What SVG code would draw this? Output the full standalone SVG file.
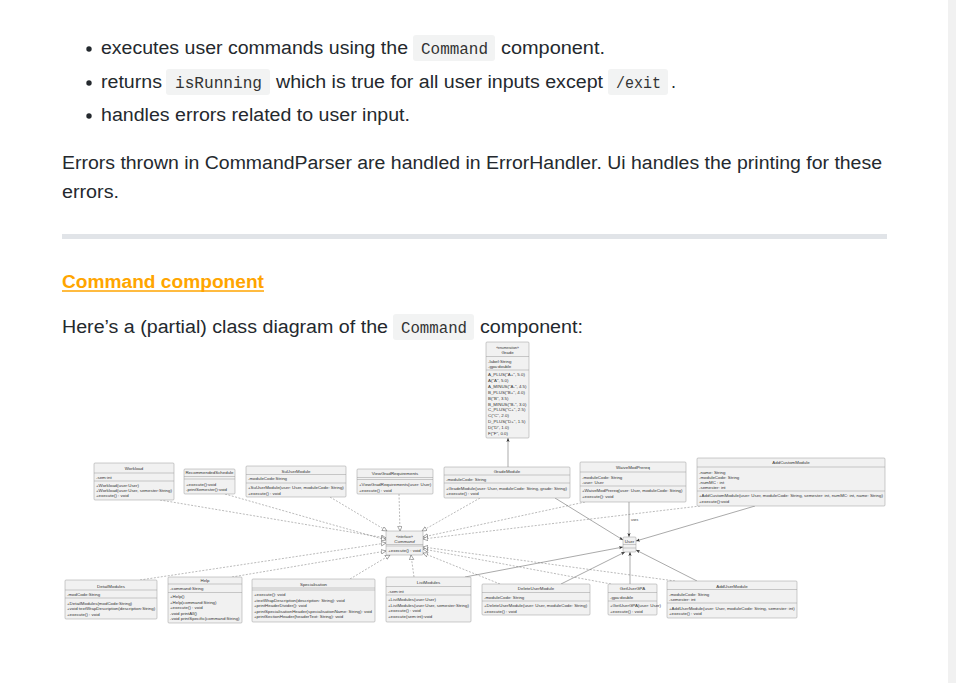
<svg xmlns="http://www.w3.org/2000/svg" width="956" height="683" viewBox="0 0 956 683">
<defs>
<style>
.t{font-family:"Liberation Sans",Arial,sans-serif;font-size:18px;fill:#24292e}
.c{font-family:"Liberation Mono","DejaVu Sans Mono",monospace;font-size:16px;fill:#333}
.cb{fill:#f2f3f3}
.u{font-family:"Liberation Sans",Arial,sans-serif;font-size:4.4px;fill:#333}
.s{font-size:3.4px}
.m{text-anchor:middle}
.box{fill:#f1f1f1;stroke:#9a9a9a;stroke-width:0.5}
.dv{stroke:#9a9a9a;stroke-width:0.5}
.dash{stroke:#777;stroke-width:0.5;stroke-dasharray:2 1.5;fill:none;marker-end:url(#tri)}
.sol{stroke:#555;stroke-width:0.5;fill:none;marker-end:url(#arr)}
</style>
<marker id="tri" markerUnits="userSpaceOnUse" markerWidth="6" markerHeight="6" refX="5" refY="2.5" orient="auto">
<path d="M0.3,0.3 L5,2.5 L0.3,4.7 Z" fill="#fff" stroke="#555" stroke-width="0.5"/>
</marker>
<marker id="arr" markerUnits="userSpaceOnUse" markerWidth="5" markerHeight="4" refX="4" refY="1.6" orient="auto">
<path d="M0,0 L4,1.6 L0,3.2 L1,1.6 Z" fill="#333"/>
</marker>
</defs>
<rect width="956" height="683" fill="#fff"/>
<rect x="948" y="0" width="8" height="683" fill="#f1f1f1"/>

<!-- text above the diagram -->
<circle cx="89" cy="49" r="2.7" fill="#24292e"/>
<text class="t" x="101" y="54" textLength="307" lengthAdjust="spacingAndGlyphs">executes user commands using the</text>
<rect class="cb" x="413" y="35" width="82" height="26" rx="3"/>
<text class="c" x="421" y="53.5" textLength="67" lengthAdjust="spacingAndGlyphs">Command</text>
<text class="t" x="501" y="54" textLength="104" lengthAdjust="spacingAndGlyphs">component.</text>

<circle cx="89" cy="83" r="2.7" fill="#24292e"/>
<text class="t" x="101" y="88" textLength="61" lengthAdjust="spacingAndGlyphs">returns</text>
<rect class="cb" x="166" y="69" width="104" height="26" rx="3"/>
<text class="c" x="175" y="87.5" textLength="87" lengthAdjust="spacingAndGlyphs">isRunning</text>
<text class="t" x="276" y="88" textLength="327" lengthAdjust="spacingAndGlyphs">which is true for all user inputs except</text>
<rect class="cb" x="608" y="69" width="60" height="26" rx="3"/>
<text class="c" x="616" y="87.5" textLength="45" lengthAdjust="spacingAndGlyphs">/exit</text>
<text class="t" x="671" y="88">.</text>

<circle cx="89" cy="116" r="2.7" fill="#24292e"/>
<text class="t" x="101" y="121" textLength="309" lengthAdjust="spacingAndGlyphs">handles errors related to user input.</text>

<text class="t" x="62" y="169" textLength="820" lengthAdjust="spacingAndGlyphs">Errors thrown in CommandParser are handled in ErrorHandler. Ui handles the printing for these</text>
<text class="t" x="62" y="198" textLength="57" lengthAdjust="spacingAndGlyphs">errors.</text>

<rect x="62" y="234" width="825" height="5" fill="#e1e4e8"/>

<text class="t" x="62" y="288" textLength="202" lengthAdjust="spacingAndGlyphs" style="fill:#ffa500;font-weight:bold">Command component</text>
<line x1="62" y1="291" x2="264" y2="291" stroke="#ffa500" stroke-width="1.5"/>

<text class="t" x="62" y="333" textLength="326" lengthAdjust="spacingAndGlyphs">Here’s a (partial) class diagram of the</text>
<rect class="cb" x="393" y="314" width="81" height="26" rx="3"/>
<text class="c" x="401" y="332.5" textLength="66" lengthAdjust="spacingAndGlyphs">Command</text>
<text class="t" x="480" y="333" textLength="103" lengthAdjust="spacingAndGlyphs">component:</text>

<!-- class diagram: connectors -->
<g id="connectors">
<line class="sol" x1="508" y1="467" x2="508" y2="438"/>
<line class="dash" x1="160" y1="500" x2="386" y2="538"/>
<line class="dash" x1="225" y1="494" x2="386" y2="540"/>
<line class="dash" x1="330" y1="497" x2="387" y2="531"/>
<line class="dash" x1="399" y1="494" x2="400" y2="531"/>
<line class="dash" x1="480" y1="498" x2="422" y2="531"/>
<line class="dash" x1="585" y1="502" x2="423" y2="537"/>
<line class="dash" x1="700" y1="506" x2="423" y2="539"/>
<line class="dash" x1="140" y1="580" x2="386" y2="543"/>
<line class="dash" x1="232" y1="577" x2="386" y2="551"/>
<line class="dash" x1="350" y1="579" x2="390" y2="555"/>
<line class="dash" x1="414" y1="577" x2="411" y2="555"/>
<line class="dash" x1="500" y1="584" x2="423" y2="553"/>
<line class="dash" x1="611" y1="584" x2="423" y2="549"/>
<line class="dash" x1="675" y1="581" x2="423" y2="547"/>
<line class="sol" x1="555" y1="498" x2="623" y2="540"/>
<line class="sol" x1="629" y1="502" x2="629" y2="537"/>
<text class="u s" x="631" y="520.5">uses</text>
<line class="sol" x1="755" y1="506" x2="636" y2="541"/>
<line class="sol" x1="465" y1="577" x2="623" y2="547"/>
<line class="sol" x1="561" y1="584" x2="625" y2="552"/>
<line class="sol" x1="630" y1="584" x2="630" y2="552"/>
<line class="sol" x1="697" y1="581" x2="636" y2="550"/>
</g>

<g id="Grade">
<rect class="box" x="486" y="342" width="43" height="96" rx="1"/>
<text class="u s m" x="507.5" y="348.5">«enumeration»</text>
<text class="u m" x="507.5" y="354">Grade</text>
<line class="dv" x1="486" y1="356.5" x2="529" y2="356.5"/>
<text class="u" x="488" y="362.5">-label:String</text>
<text class="u" x="488" y="367.5">-gpa:double</text>
<line class="dv" x1="486" y1="370" x2="529" y2="370"/>
<text class="u" x="488" y="376">A_PLUS("A+", 5.0)</text>
<text class="u" x="488" y="381.9">A("A", 5.0)</text>
<text class="u" x="488" y="387.8">A_MINUS("A-", 4.5)</text>
<text class="u" x="488" y="393.7">B_PLUS("B+", 4.0)</text>
<text class="u" x="488" y="399.6">B("B", 3.5)</text>
<text class="u" x="488" y="405.5">B_MINUS("B-", 3.0)</text>
<text class="u" x="488" y="411.4">C_PLUS("C+", 2.5)</text>
<text class="u" x="488" y="417.3">C("C", 2.0)</text>
<text class="u" x="488" y="423.2">D_PLUS("D+", 1.5)</text>
<text class="u" x="488" y="429.1">D("D", 1.0)</text>
<text class="u" x="488" y="435">F("F", 0.0)</text>
</g>

<g id="Workload">
<rect class="box" x="94" y="463" width="80" height="37" rx="1"/>
<text class="u m" x="134" y="469.5">Workload</text>
<line class="dv" x1="94" y1="473" x2="174" y2="473"/>
<text class="u" x="96" y="478.5">-sem:int</text>
<line class="dv" x1="94" y1="481" x2="174" y2="481"/>
<text class="u" x="96" y="486.5">+Workload(user:User)</text>
<text class="u" x="96" y="491.7">+Workload(user:User, semester:String)</text>
<text class="u" x="96" y="497">+execute() : void</text>
</g>

<g id="RecommendedSchedule">
<rect class="box" x="184" y="469" width="51" height="25" rx="1"/>
<text class="u m" x="209.5" y="474">RecommendedSchedule</text>
<line class="dv" x1="184" y1="476.5" x2="235" y2="476.5"/>
<line class="dv" x1="184" y1="479" x2="235" y2="479"/>
<text class="u" x="186" y="485.5">+execute():void</text>
<text class="u" x="186" y="491">-printSemester():void</text>
</g>

<g id="SuUserModule">
<rect class="box" x="246" y="466" width="100" height="31" rx="1"/>
<text class="u m" x="296" y="472.5">SuUserModule</text>
<line class="dv" x1="246" y1="474.5" x2="346" y2="474.5"/>
<text class="u" x="248" y="480">-moduleCode:String</text>
<line class="dv" x1="246" y1="483" x2="346" y2="483"/>
<text class="u" x="248" y="489">+SuUserModule(user: User, moduleCode: String)</text>
<text class="u" x="248" y="494.8">+execute() : void</text>
</g>

<g id="ViewGradRequirements">
<rect class="box" x="357" y="469" width="76" height="25" rx="1"/>
<text class="u m" x="395" y="475">ViewGradRequirements</text>
<line class="dv" x1="357" y1="477.5" x2="433" y2="477.5"/>
<line class="dv" x1="357" y1="479.5" x2="433" y2="479.5"/>
<text class="u" x="359" y="486">+ViewGradRequirements(user: User)</text>
<text class="u" x="359" y="491.5">+execute() : void</text>
</g>

<g id="GradeModule">
<rect class="box" x="444" y="467" width="126" height="31" rx="1"/>
<text class="u m" x="507" y="473">GradeModule</text>
<line class="dv" x1="444" y1="475" x2="570" y2="475"/>
<text class="u" x="446" y="480.5">-moduleCode: String</text>
<line class="dv" x1="444" y1="483" x2="570" y2="483"/>
<text class="u" x="446" y="489.5">+GradeModule(user: User, moduleCode: String, grade: String)</text>
<text class="u" x="446" y="495">+execute() : void</text>
</g>

<g id="WaiveModPrereq">
<rect class="box" x="580" y="462" width="106" height="40" rx="1"/>
<text class="u m" x="633" y="469">WaiveModPrereq</text>
<line class="dv" x1="580" y1="472" x2="686" y2="472"/>
<text class="u" x="582" y="478.5">-moduleCode: String</text>
<text class="u" x="582" y="483.5">-user: User</text>
<line class="dv" x1="580" y1="486" x2="686" y2="486"/>
<text class="u" x="582" y="492">+WaiveModPrereq(user: User, moduleCode: String)</text>
<text class="u" x="582" y="497.5">+execute(): void</text>
</g>

<g id="AddCustomModule">
<rect class="box" x="697" y="458" width="188" height="48" rx="1"/>
<text class="u m" x="791" y="463.5">AddCustomModule</text>
<line class="dv" x1="697" y1="467" x2="885" y2="467"/>
<text class="u" x="699" y="473.5">-name: String</text>
<text class="u" x="699" y="478.5">-moduleCode: String</text>
<text class="u" x="699" y="483.5">-numMC : int</text>
<text class="u" x="699" y="488.5">-semester: int</text>
<line class="dv" x1="697" y1="491" x2="885" y2="491"/>
<text class="u" x="699" y="497">+AddCustomModule(user: User, moduleCode: String, semester: int, numMC: int, name: String)</text>
<text class="u" x="699" y="502.5">+execute():void</text>
</g>

<g id="Command">
<rect class="box" x="386" y="531" width="37" height="24" rx="1"/>
<text class="u s m" x="404.5" y="537.5">«interface»</text>
<text class="u m" x="404.5" y="542.5" font-style="italic">Command</text>
<line class="dv" x1="386" y1="544.5" x2="423" y2="544.5"/>
<line class="dv" x1="386" y1="546" x2="423" y2="546"/>
<text class="u m" x="404.5" y="551.5">+execute() : void</text>
</g>

<g id="User">
<rect class="box" x="623" y="537" width="13" height="15" rx="1"/>
<text class="u m" x="629.5" y="542.5">User</text>
<line class="dv" x1="623" y1="544.5" x2="636" y2="544.5"/>
<line class="dv" x1="623" y1="548" x2="636" y2="548"/>
</g>

<g id="DetailModules">
<rect class="box" x="65" y="580" width="92" height="39" rx="1"/>
<text class="u m" x="111" y="587.5">DetailModules</text>
<line class="dv" x1="65" y1="590" x2="157" y2="590"/>
<text class="u" x="67" y="595.5">-modCode:String</text>
<line class="dv" x1="65" y1="598" x2="157" y2="598"/>
<text class="u" x="67" y="604.5">+DetailModules(modCode:String)</text>
<text class="u" x="67" y="610">+void textWrapDescription(description:String)</text>
<text class="u" x="67" y="615.5">+execute() : void</text>
</g>

<g id="Help">
<rect class="box" x="168" y="577" width="74" height="46" rx="1"/>
<text class="u m" x="205" y="582">Help</text>
<line class="dv" x1="168" y1="584" x2="242" y2="584"/>
<text class="u" x="170" y="589.5">-command:String</text>
<line class="dv" x1="168" y1="592.5" x2="242" y2="592.5"/>
<text class="u" x="170" y="598">+Help()</text>
<text class="u" x="170" y="603.5">+Help(command:String)</text>
<text class="u" x="170" y="609">+execute() : void</text>
<text class="u" x="170" y="614.5">-void printAll()</text>
<text class="u" x="170" y="620">-void printSpecific(command:String)</text>
</g>

<g id="Specialisation">
<rect class="box" x="252" y="579" width="123" height="43" rx="1"/>
<text class="u m" x="313.5" y="585.5">Specialisation</text>
<line class="dv" x1="252" y1="588" x2="375" y2="588"/>
<line class="dv" x1="252" y1="590" x2="375" y2="590"/>
<text class="u" x="254" y="596">+execute(): void</text>
<text class="u" x="254" y="601.5">+textWrapDescription(description: String): void</text>
<text class="u" x="254" y="607">+printHeaderDivider(): void</text>
<text class="u" x="254" y="612.5">+printSpecialisationHeader(specialisationName: String): void</text>
<text class="u" x="254" y="618">+printSectionHeader(headerText: String): void</text>
</g>

<g id="ListModules">
<rect class="box" x="386" y="577" width="85" height="45" rx="1"/>
<text class="u m" x="428.5" y="584">ListModules</text>
<line class="dv" x1="386" y1="586.5" x2="471" y2="586.5"/>
<text class="u" x="388" y="592.5">-sem:int</text>
<line class="dv" x1="386" y1="595" x2="471" y2="595"/>
<text class="u" x="388" y="601">+ListModules(user:User)</text>
<text class="u" x="388" y="606.5">+ListModules(user:User, semester:String)</text>
<text class="u" x="388" y="612">+execute() : void</text>
<text class="u" x="388" y="617.5">+execute(sem:int):void</text>
</g>

<g id="DeleteUserModule">
<rect class="box" x="482" y="584" width="108" height="31" rx="1"/>
<text class="u m" x="536" y="590">DeleteUserModule</text>
<line class="dv" x1="482" y1="592.5" x2="590" y2="592.5"/>
<text class="u" x="484" y="598.5">-moduleCode: String</text>
<line class="dv" x1="482" y1="601" x2="590" y2="601"/>
<text class="u" x="484" y="607">+DeleteUserModule(user: User, moduleCode: String)</text>
<text class="u" x="484" y="612.5">+execute() : void</text>
</g>

<g id="GetUserGPA">
<rect class="box" x="608" y="584" width="49" height="31" rx="1"/>
<text class="u m" x="632.5" y="590">GetUserGPA</text>
<line class="dv" x1="608" y1="592.5" x2="657" y2="592.5"/>
<text class="u" x="610" y="598.5">-gpa:double</text>
<line class="dv" x1="608" y1="601" x2="657" y2="601"/>
<text class="u" x="610" y="607">+GetUserGPA(user: User)</text>
<text class="u" x="610" y="612.5">+execute() : void</text>
</g>

<g id="AddUserModule">
<rect class="box" x="667" y="581" width="130" height="37" rx="1"/>
<text class="u m" x="732" y="587.5">AddUserModule</text>
<line class="dv" x1="667" y1="589.5" x2="797" y2="589.5"/>
<text class="u" x="669" y="595.5">-moduleCode: String</text>
<text class="u" x="669" y="600.5">-semester: int</text>
<line class="dv" x1="667" y1="603" x2="797" y2="603"/>
<text class="u" x="669" y="609.5">+AddUserModule(user: User, moduleCode: String, semester: int)</text>
<text class="u" x="669" y="615">+execute() : void</text>
</g>
</svg>
